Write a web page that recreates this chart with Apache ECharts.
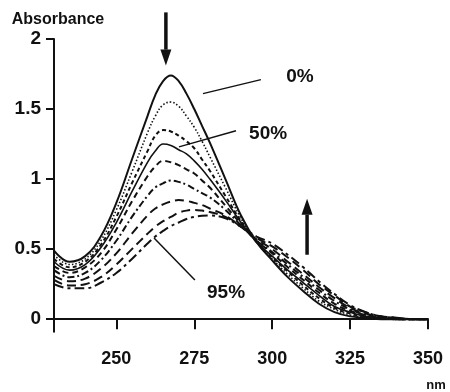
<!DOCTYPE html>
<html>
<head>
<meta charset="utf-8">
<script src="https://cdn.jsdelivr.net/npm/echarts@6/dist/echarts.min.js"></script>
<style>
  html, body { margin: 0; padding: 0; background: #fff; }
  #chart { width: 450px; height: 392px; }
</style>
</head>
<body>
<div id="chart"></div>
<script>
// wavelength grid (nm), finer around the peaks
const wavelengths = [230, 235, 240, 245, 250, 255, 260, 262.5, 265, 267.5, 270, 272.5, 275, 277.5,
  280, 285, 290, 295, 300, 305, 310, 315, 320, 325, 330, 335, 340, 345, 350];

// absorbance curves, from 0% (top peak) to 95% (lowest peak)
const abs0 = [0.49, 0.41, 0.45, 0.59, 0.83, 1.14, 1.45, 1.60, 1.70, 1.74, 1.70, 1.61, 1.50, 1.38,
  1.26, 1.00, 0.74, 0.55, 0.42, 0.30, 0.20, 0.11, 0.05, 0.02, 0.01, 0, 0, 0, 0];
const abs1 = [0.46, 0.39, 0.43, 0.56, 0.78, 1.05, 1.33, 1.45, 1.53, 1.55, 1.52, 1.45, 1.37, 1.27,
  1.16, 0.94, 0.72, 0.55, 0.43, 0.32, 0.22, 0.13, 0.07, 0.03, 0.01, 0, 0, 0, 0];
const abs2 = [0.43, 0.37, 0.41, 0.53, 0.73, 0.97, 1.20, 1.31, 1.35, 1.34, 1.31, 1.27, 1.22, 1.14,
  1.06, 0.88, 0.70, 0.55, 0.44, 0.34, 0.24, 0.15, 0.08, 0.04, 0.02, 0.01, 0, 0, 0];
const abs3 = [0.41, 0.35, 0.39, 0.51, 0.69, 0.91, 1.12, 1.20, 1.25, 1.24, 1.21, 1.18, 1.13, 1.07,
  1.00, 0.85, 0.69, 0.55, 0.45, 0.35, 0.26, 0.17, 0.09, 0.05, 0.02, 0.01, 0, 0, 0];
const abs4 = [0.38, 0.33, 0.37, 0.47, 0.64, 0.84, 1.02, 1.09, 1.13, 1.12, 1.10, 1.07, 1.04, 0.99,
  0.94, 0.81, 0.68, 0.56, 0.47, 0.37, 0.28, 0.19, 0.11, 0.06, 0.03, 0.01, 0, 0, 0];
const abs5 = [0.35, 0.30, 0.33, 0.42, 0.56, 0.73, 0.88, 0.94, 0.97, 0.99, 0.98, 0.96, 0.93, 0.90,
  0.87, 0.78, 0.67, 0.56, 0.48, 0.39, 0.30, 0.21, 0.13, 0.07, 0.03, 0.01, 0, 0, 0];
const abs6 = [0.31, 0.27, 0.29, 0.36, 0.47, 0.61, 0.74, 0.79, 0.82, 0.84, 0.85, 0.845, 0.83, 0.815,
  0.79, 0.74, 0.66, 0.57, 0.50, 0.41, 0.32, 0.23, 0.15, 0.08, 0.04, 0.02, 0.01, 0, 0];
const abs7 = [0.28, 0.24, 0.25, 0.30, 0.39, 0.50, 0.61, 0.66, 0.70, 0.73, 0.76, 0.775, 0.78, 0.775,
  0.765, 0.73, 0.66, 0.58, 0.52, 0.44, 0.35, 0.25, 0.17, 0.09, 0.05, 0.02, 0.01, 0, 0];
const abs8 = [0.25, 0.22, 0.22, 0.26, 0.33, 0.43, 0.54, 0.59, 0.63, 0.665, 0.69, 0.715, 0.73, 0.738,
  0.74, 0.72, 0.66, 0.59, 0.54, 0.46, 0.37, 0.27, 0.18, 0.10, 0.05, 0.02, 0.01, 0, 0];

const curves = [abs0, abs1, abs2, abs3, abs4, abs5, abs6, abs7, abs8];
const curveNames = ['0%', 'c1', 'c2', '50%', 'c4', 'c5', 'c6', 'c7', '95%'];

const xTicks = [250, 275, 300, 325, 350];
const yTicks = [0, 0.5, 1, 1.5, 2];

// annotation text, leader lines and arrows, in data units
const noteLabels = [[308.9, 1.73, '0%'], [298.7, 1.32, '50%'], [285.2, 0.19, '95%']];
const leaderLines = [
  [[277.8, 1.61], [296.4, 1.71]],
  [[270.1, 1.23], [288.4, 1.345]],
  [[262.1, 0.58], [275.2, 0.28]],
];
const arrows = [
  [[265.9, 2.19], [265.9, 1.81]],
  [[311.2, 0.46], [311.2, 0.86]],
];

const ink = '#111';
const fontFamily = '"Liberation Sans", Arial, sans-serif';

const dashStyles = [
  { type: 'solid', width: 2 },
  { type: [1.5, 2], width: 1.6 },
  { type: [4, 3], width: 2 },
  { type: 'solid', width: 1.6 },
  { type: [6, 4], width: 2 },
  { type: [7, 3, 2, 3], width: 2 },
  { type: [9, 5], width: 2 },
  { type: [9, 5], width: 2 },
  { type: [10, 4, 3, 4], width: 2 },
];

const chart = echarts.init(document.getElementById('chart'));

const lineSeries = curves.map((values, i) => ({
  type: 'line',
  name: curveNames[i],
  data: wavelengths.map((w, j) => [w, values[j]]),
  smooth: 0.4,
  showSymbol: false,
  silent: true,
  lineStyle: { color: ink, width: dashStyles[i].width, type: dashStyles[i].type },
  z: 3,
}));

chart.setOption({
  animation: false,
  backgroundColor: '#fff',
  grid: { left: 54, right: 22, top: 39, bottom: 56 },
  xAxis: {
    type: 'value',
    min: 230,
    max: 350,
    name: 'nm',
    nameLocation: 'end',
    nameGap: 8,
    nameTextStyle: {
      color: ink, fontFamily, fontWeight: 'bold', fontSize: 13,
      align: 'center', verticalAlign: 'top', padding: [60, 0, 0, 0],
    },
    axisLine: { lineStyle: { color: ink, width: 2 } },
    axisTick: { show: true, length: 10, lineStyle: { color: ink, width: 2 }, customValues: xTicks },
    axisLabel: { color: ink, fontFamily, fontWeight: 'bold', fontSize: 18, margin: 18, customValues: xTicks },
    splitLine: { show: false },
  },
  yAxis: {
    type: 'value',
    min: -0.09,
    max: 2,
    name: 'Absorbance',
    nameLocation: 'end',
    nameGap: 11,
    nameTextStyle: {
      color: ink, fontFamily, fontWeight: 'bold', fontSize: 16,
      align: 'center', padding: [0, 0, 0, 8],
    },
    axisLine: { show: true, lineStyle: { color: ink, width: 2 } },
    axisTick: { show: true, length: 8, lineStyle: { color: ink, width: 2 }, customValues: yTicks },
    axisLabel: { color: ink, fontFamily, fontWeight: 'bold', fontSize: 19, margin: 13, customValues: yTicks },
    splitLine: { show: false },
  },
  series: [
    ...lineSeries,
    {
      type: 'line',
      name: 'notes',
      data: [],
      silent: true,
      markLine: {
        silent: true,
        animation: false,
        symbol: ['none', 'none'],
        label: { show: false },
        lineStyle: { color: ink, width: 1.5, type: 'solid' },
        data: leaderLines.map(([a, b]) => [{ coord: a }, { coord: b }]),
      },
    },
    {
      type: 'scatter',
      name: 'labels',
      data: noteLabels,
      symbolSize: 0,
      silent: true,
      itemStyle: { opacity: 1 },
      label: {
        show: true,
        position: 'inside',
        formatter: p => p.data[2],
        color: ink,
        fontFamily,
        fontWeight: 'bold',
        fontSize: 19,
      },
    },
  ],
});

// arrows: the top one reaches above the axis max, so draw them as graphics placed from data coords
const headLength = 16;
const headHalfWidth = 5.5;
const arrowGraphics = arrows.map(([from, to]) => {
  const [x1, y1] = chart.convertToPixel({ gridIndex: 0 }, from);
  const [x2, y2] = chart.convertToPixel({ gridIndex: 0 }, to);
  const dir = Math.sign(y2 - y1);
  const baseY = y2 - dir * headLength;
  return {
    type: 'group',
    children: [
      {
        type: 'line',
        shape: { x1, y1, x2, y2: baseY },
        style: { stroke: ink, lineWidth: 3.5 },
      },
      {
        type: 'polygon',
        shape: { points: [[x2, y2], [x2 - headHalfWidth, baseY], [x2 + headHalfWidth, baseY]] },
        style: { fill: ink },
      },
    ],
  };
});
chart.setOption({ graphic: arrowGraphics });
</script>
</body>
</html>
